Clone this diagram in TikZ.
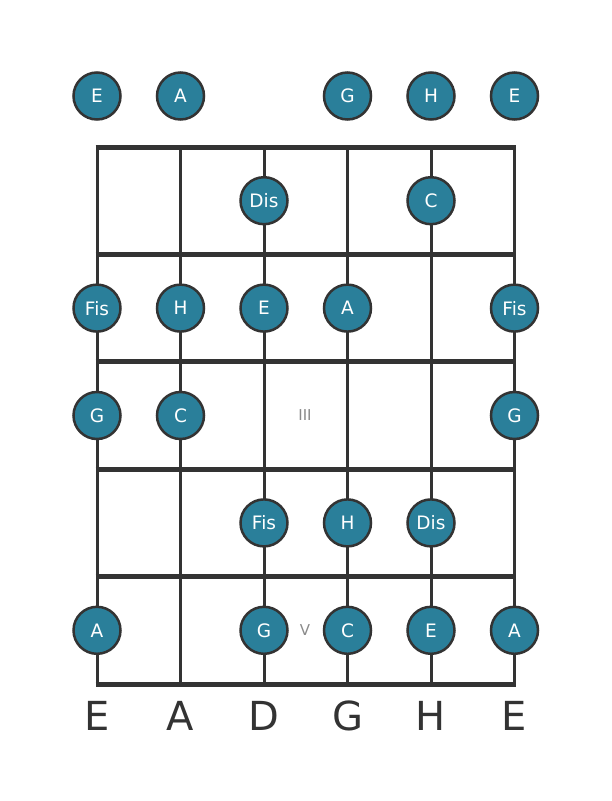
\documentclass[tikz,border=0pt]{standalone}
\usepackage{fontspec}
\setmainfont{DejaVu Sans}
\usetikzlibrary{positioning}
\definecolor{notefill}{HTML}{2A7F9A}
\definecolor{darkline}{HTML}{333333}
\definecolor{markgray}{HTML}{8A8A8A}

\begin{document}
\begin{tikzpicture}[x=1pt,y=-1pt,
    note/.style={circle,draw=darkline,fill=notefill,line width=2.5pt,minimum size=47pt,
      inner sep=0pt,text=white,font=\fontsize{18.5}{18.5}\selectfont},
    fretline/.style={draw=darkline,line width=5pt},
    gstring/.style={draw=darkline,line width=3pt},
    tuning/.style={text=darkline,font=\fontsize{40}{40}\selectfont},
    posmark/.style={text=markgray,font=\fontsize{15}{15}\selectfont}]
  \useasboundingbox (0,0) rectangle (611,801);
  % strings
  \foreach \s in {1,...,6}
    \draw[gstring] ({97+83.5*(\s-1)},147) -- ({97+83.5*(\s-1)},684);
  % frets
  \foreach \f in {0,...,5}
    \draw[fretline] (95.5,{147+107.4*\f}) -- (516,{147+107.4*\f});
  % open strings
  \foreach \s/\n in {1/E,2/A,4/G,5/H,6/E}
    \node[note] (o\s) at ({97+83.5*(\s-1)},96) {\n};
  % fretted notes
  \foreach \s/\f/\n in {3/1/Dis,5/1/C,
      1/2/Fis,2/2/H,3/2/E,4/2/A,6/2/Fis,
      1/3/G,2/3/C,6/3/G,
      3/4/Fis,4/4/H,5/4/Dis,
      1/5/A,3/5/G,4/5/C,5/5/E,6/5/A}
    \node[note] (n\s-\f) at ({97+83.5*(\s-1)},{93.3+107.4*\f}) {\n};
  % position marks
  \node[posmark] (m3) at (305,415) {III};
  \node[posmark] (m5) at (305,630) {V};
  % tuning
  \foreach \s/\n in {1/E,2/A,3/D,4/G,5/H,6/E}
    \node[tuning] (t\s) at ({97+83.5*(\s-1)},716) {\n};
\end{tikzpicture}
\end{document}
